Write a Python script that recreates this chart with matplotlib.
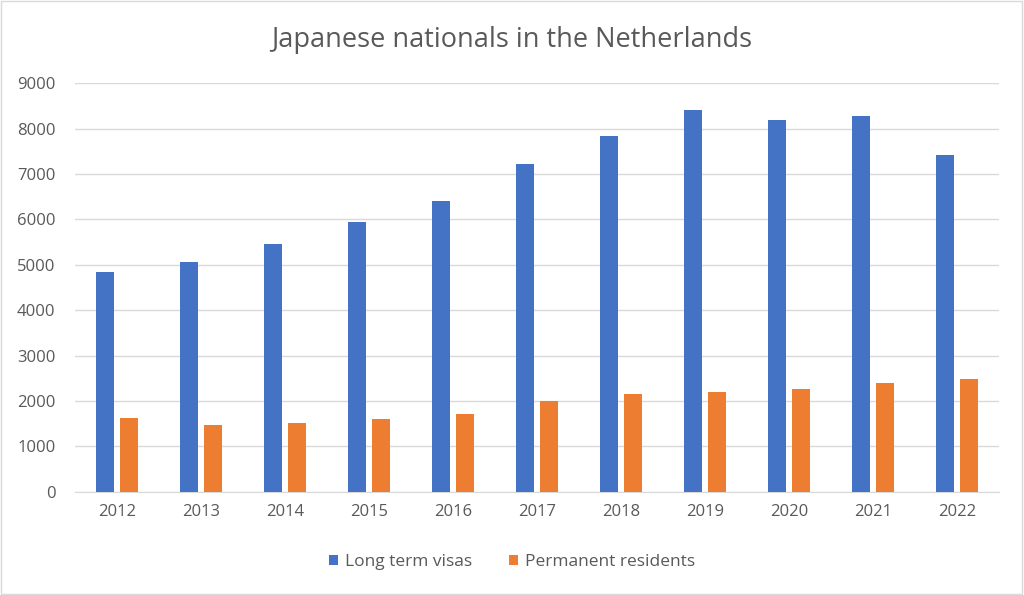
import matplotlib
matplotlib.use("Agg")
import matplotlib.pyplot as plt
import numpy as np

plt.rcParams['font.family'] = ['Open Sans', 'DejaVu Sans']

years = ['2012', '2013', '2014', '2015', '2016', '2017', '2018', '2019', '2020', '2021', '2022']
long_term = [4840, 5055, 5450, 5945, 6415, 7215, 7830, 8405, 8185, 8275, 7415]
permanent = [1615, 1475, 1505, 1600, 1710, 2000, 2155, 2190, 2265, 2395, 2490]

blue = '#4472C4'
orange = '#ED7D31'
grey = '#595959'

fig = plt.figure(figsize=(10.24, 5.95), dpi=100)
ax = fig.add_axes([75 / 1024, 1 - 491.7 / 595, (999 - 75) / 1024, (491.7 - 83.3) / 595])

x = np.arange(len(years))
w = 0.218
off = 0.141
ax.bar(x - off, long_term, w, color=blue, label='Long term visas', zorder=3)
ax.bar(x + off, permanent, w, color=orange, label='Permanent residents', zorder=3)

ax.set_xlim(-0.5, len(years) - 0.5)
ax.set_ylim(0, 9000)
ax.set_yticks(range(0, 9001, 1000))
ax.set_xticks(x)
ax.set_xticklabels(years)
ax.grid(axis='y', color='#d9d9d9', linewidth=1, zorder=0)
for s in ['top', 'right', 'left']:
    ax.spines[s].set_visible(False)
ax.spines['bottom'].set_color('#d9d9d9')
ax.tick_params(axis='both', length=0, labelsize=12, colors=grey)
ax.tick_params(axis='y', pad=14)
ax.tick_params(axis='x', pad=9)

fig.text(0.5, 1 - 40 / 595, 'Japanese nationals in the Netherlands', ha='center', va='center',
         fontsize=19.5, color=grey)

fig.legend(loc='center', bbox_to_anchor=(0.5, 1 - 562 / 595), ncol=2, frameon=False,
           fontsize=12.5, labelcolor=grey, handlelength=0.55, handleheight=0.55,
           columnspacing=2.1, handletextpad=0.4)

border = plt.Rectangle((0.001, 0.002), 0.997, 0.996, transform=fig.transFigure,
                       fill=False, edgecolor='#d9d9d9', linewidth=1)
fig.add_artist(border)

fig.savefig('out.png', dpi=100)
